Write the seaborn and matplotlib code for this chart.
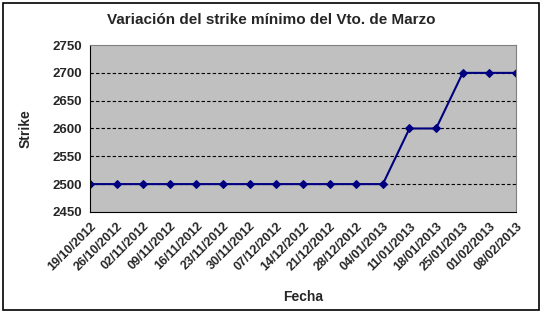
import matplotlib
matplotlib.use("Agg")
import matplotlib.pyplot as plt
import seaborn as sns
import pandas as pd
from matplotlib.patches import Rectangle

fechas = ["19/10/2012", "26/10/2012", "02/11/2012", "09/11/2012", "16/11/2012",
          "23/11/2012", "30/11/2012", "07/12/2012", "14/12/2012", "21/12/2012",
          "28/12/2012", "04/01/2013", "11/01/2013", "18/01/2013", "25/01/2013",
          "01/02/2013", "08/02/2013"]
strike = [2500, 2500, 2500, 2500, 2500, 2500, 2500, 2500, 2500, 2500, 2500, 2500,
          2600, 2600, 2700, 2700, 2700]

df = pd.DataFrame({"idx": range(len(fechas)), "Strike": strike})

sns.set_style("white")
plt.rcParams['font.family'] = ['Liberation Sans', 'DejaVu Sans']

fig = plt.figure(figsize=(5.42, 3.13), dpi=100)
ax = fig.add_axes([0.166, 0.323, 0.786, 0.533])
ax.set_facecolor("#C0C0C0")

sns.lineplot(data=df, x="idx", y="Strike", ax=ax, color="#000080", marker="D",
             markersize=4.5, markeredgecolor="#000080", linewidth=1.5)

ax.set_xlim(0, len(fechas) - 1)
ax.set_ylim(2450, 2750)
ax.set_yticks(range(2450, 2751, 50))
ax.set_xticks(range(len(fechas)))
ax.set_xticklabels(fechas, rotation=45, ha="right", rotation_mode="anchor",
                   fontsize=9, fontweight="bold")
for lab in ax.get_yticklabels():
    lab.set_fontsize(9.5)
    lab.set_fontweight("bold")
for y in [2500, 2550, 2600, 2650, 2700]:
    ax.axhline(y, color="black", linestyle=(0, (3, 2)), linewidth=0.8, zorder=1)

for s in ax.spines.values():
    s.set_color("black")
    s.set_linewidth(0.8)
ax.spines["top"].set_color("#808080")
ax.spines["right"].set_color("#808080")
ax.tick_params(axis="both", direction="out", length=4, width=0.8, color="black", pad=2)

ax.set_xlabel("Fecha", fontsize=10, fontweight="bold", labelpad=12)
ax.set_ylabel("Strike", fontsize=10, fontweight="bold", labelpad=14)
fig.text(0.5, 0.935, "Variación del strike mínimo del Vto. de Marzo",
         ha="center", va="center", fontsize=11, fontweight="bold")

fig.patches.append(Rectangle((0.006, 0.01), 0.988, 0.98, transform=fig.transFigure,
                             fill=False, edgecolor="black", linewidth=1.2))

fig.savefig("out.png", dpi=100)
